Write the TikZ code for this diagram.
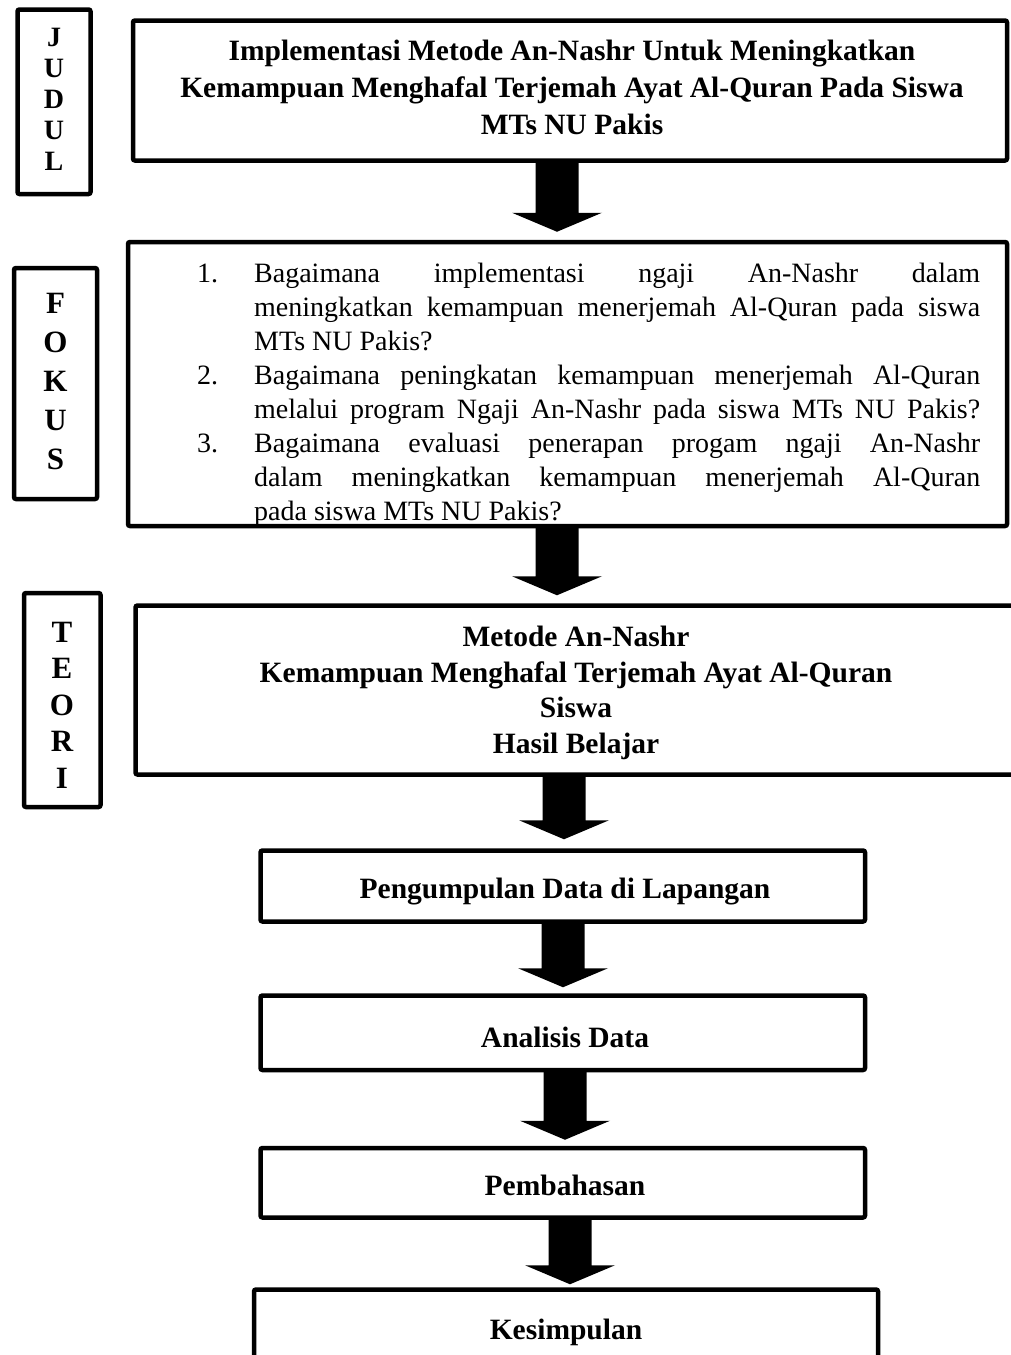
\documentclass[tikz,border=0pt]{standalone}
\usepackage{fontspec}
\setmainfont{Liberation Serif}
\usetikzlibrary{calc}
\tikzset{
  x=1pt, y=1pt,
  boxline/.style={draw=black, line width=4.5pt, rounded corners=2pt, inner sep=0pt},
  vlab/.style={align=center, inner sep=0pt},
  boldtxt/.style={anchor=base, inner sep=0pt, font=\fontsize{29.5}{34}\selectfont\bfseries},
  listtxt/.style={anchor=base west, inner sep=0pt, font=\fontsize{28}{34}\selectfont},
  arrowfill/.style={fill=black},
}
% box from line-centre corners (x1,y1)-(x2,y2), y measured downward
\newcommand{\boxnode}[5]{%
  \node[boxline, minimum width={(#4-#2)*1pt}, minimum height={(#5-#3)*1pt}]
    (#1) at ({(#2+#4)/2},{-(#3+#5)/2}) {};}
% block arrow: from node, to node, x centre, gap above target
\newcommand{\flowarrow}[4]{%
  \path (#1.south -| #3,0) coordinate (fa-s)
        ($(#2.north -| #3,0)+(0,#4)$) coordinate (fa-t);
  \fill[arrowfill] ($(fa-s)+(-21.5,2)$) -- ($(fa-s)+(21.5,2)$) --
    ($(fa-t)+(21.5,19)$) -- ($(fa-t)+(45,19)$) -- (fa-t) --
    ($(fa-t)+(-45,19)$) -- ($(fa-t)+(-21.5,19)$) -- cycle;}
\newcommand{\jline}[1]{\makebox[726pt][s]{#1}}
\begin{document}
\begin{tikzpicture}
\useasboundingbox (0,0) rectangle (1010,-1355);
% side labels
\boxnode{judul}{17.5}{9.5}{90.5}{194}
\node[vlab, font=\fontsize{28}{31}\selectfont\bfseries] (judult) at (54,-99) {J\\U\\D\\U\\L};
\boxnode{fokuslab}{14}{268}{97}{499}
\node[vlab, font=\fontsize{31}{39}\selectfont\bfseries] (fokuslabt) at (55.5,-381) {F\\O\\K\\U\\S};
\boxnode{teorilab}{24}{593}{100.5}{807}
\node[vlab, font=\fontsize{31}{36.5}\selectfont\bfseries] (teorilabt) at (62,-705) {T\\E\\O\\R\\I};
% main boxes
\boxnode{title}{133}{20.5}{1007}{160.5}
\boxnode{fokus}{128}{242}{1007}{526}
\boxnode{teori}{135.5}{605.5}{1040}{774.5}
\boxnode{peng}{260.5}{850.5}{865}{921.5}
\boxnode{anal}{260.5}{995.5}{865}{1070}
\boxnode{pemb}{260.5}{1148}{865}{1217.5}
\boxnode{kesim}{254}{1289.5}{878}{1420}
% title text
\node[boldtxt] (t1) at (572,-60) {Implementasi Metode An-Nashr Untuk Meningkatkan};
\node[boldtxt] (t2) at (572,-97) {Kemampuan Menghafal Terjemah Ayat Al-Quran Pada Siswa};
\node[boldtxt] (t3) at (572,-134) {MTs NU Pakis};
% fokus list
\node[listtxt] (n1) at (197,-282) {1.};
\node[listtxt] (f1) at (254,-282) {\jline{Bagaimana implementasi ngaji An-Nashr dalam}};
\node[listtxt] (f2) at (254,-316) {\jline{meningkatkan kemampuan menerjemah Al-Quran pada siswa}};
\node[listtxt] (f3) at (254,-350) {MTs NU Pakis?};
\node[listtxt] (n2) at (197,-384) {2.};
\node[listtxt] (f4) at (254,-384) {\jline{Bagaimana peningkatan kemampuan menerjemah Al-Quran}};
\node[listtxt] (f5) at (254,-418) {\jline{melalui program Ngaji An-Nashr pada siswa MTs NU Pakis?}};
\node[listtxt] (n3) at (197,-452) {3.};
\node[listtxt] (f6) at (254,-452) {\jline{Bagaimana evaluasi penerapan progam ngaji An-Nashr}};
\node[listtxt] (f7) at (254,-486) {\jline{dalam meningkatkan kemampuan menerjemah Al-Quran}};
\node[listtxt] (f8) at (254,-520) {pada siswa MTs NU Pakis?};
% teori text
\node[boldtxt] (e1) at (576,-646) {Metode An-Nashr};
\node[boldtxt] (e2) at (576,-682) {Kemampuan Menghafal Terjemah Ayat Al-Quran};
\node[boldtxt] (e3) at (576,-717.5) {Siswa};
\node[boldtxt] (e4) at (576,-753) {Hasil Belajar};
% lower boxes text
\node[boldtxt] (pengt) at (565,-898) {Pengumpulan Data di Lapangan};
\node[boldtxt] (analt) at (565,-1047) {Analisis Data};
\node[boldtxt] (pembt) at (565,-1195) {Pembahasan};
\node[boldtxt] (kesimt) at (566,-1339) {Kesimpulan};
% arrows
\flowarrow{title}{fokus}{557}{8}
\flowarrow{fokus}{teori}{557}{8}
\flowarrow{teori}{peng}{564}{9}
\flowarrow{peng}{anal}{563}{6}
\flowarrow{anal}{pemb}{565}{6}
\flowarrow{pemb}{kesim}{570}{3}
\end{tikzpicture}
\end{document}
